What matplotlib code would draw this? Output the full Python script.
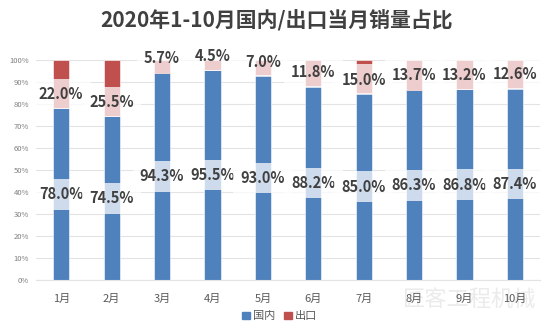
import matplotlib
matplotlib.use("Agg")
import matplotlib.pyplot as plt
from matplotlib.patches import Patch

plt.rcParams['font.family'] = ['Noto Sans CJK SC', 'DejaVu Sans']

months = ['1月', '2月', '3月', '4月', '5月', '6月', '7月', '8月', '9月', '10月']
domestic = [78.0, 74.5, 94.3, 95.5, 93.0, 88.2, 85.0, 86.3, 86.8, 87.4]
export = [22.0, 25.5, 5.7, 4.5, 7.0, 11.8, 15.0, 13.7, 13.2, 12.6]
export_label_y = [84.5, 81.0, 100.8, 102.0, 99.2, 94.4, 91.0, 93.2, 93.2, 93.5]

BLUE = '#4F81BD'
RED = '#C0504D'
TXT = '#404040'

fig = plt.figure(figsize=(5.54, 3.33), dpi=100)

# faint watermark, drawn beneath the chart
fig.text(0.847, 0.102, '匠客工程机械', ha='center', va='center', fontsize=16,
         color='#EBEBEB', zorder=-5)

ax = fig.add_axes([0.065, 0.158, 0.91, 0.662])
ax.patch.set_alpha(0)

x = list(range(len(months)))
w = 0.32
ax.bar(x, domestic, width=w, color=BLUE, edgecolor='white', linewidth=0.4, zorder=2)
ax.bar(x, export, width=w, bottom=domestic, color=RED, edgecolor='white', linewidth=0.4, zorder=2)

box = dict(boxstyle='square,pad=0.5', facecolor='white', edgecolor='none', alpha=0.72)
for i in x:
    ax.text(i, domestic[i] / 2, f'{domestic[i]:.1f}%', ha='center', va='center',
            fontsize=10.5, fontweight='bold', color=TXT, bbox=box, zorder=3)
    ax.text(i, export_label_y[i], f'{export[i]:.1f}%', ha='center', va='center',
            fontsize=10.5, fontweight='bold', color=TXT, bbox=box, zorder=3)

ax.set_xlim(-0.5, len(months) - 0.5)
ax.set_ylim(0, 100)
ax.set_yticks(range(0, 101, 10))
ax.set_yticklabels([f'{v}%' for v in range(0, 101, 10)])
ax.set_xticks(x)
ax.set_xticklabels(months)
ax.tick_params(axis='y', length=0, pad=5, labelsize=5.5, labelcolor='#7F7F7F')
ax.tick_params(axis='x', length=0, pad=10, labelsize=8, labelcolor='#595959')
ax.grid(axis='y', color='#E3E3E3', linewidth=0.8, zorder=0)
ax.set_axisbelow(True)
for s in ['top', 'right', 'left']:
    ax.spines[s].set_visible(False)
ax.spines['bottom'].set_color('#E3E3E3')
ax.spines['bottom'].set_linewidth(0.8)

fig.text(0.5, 0.938, '2020年1-10月国内/出口当月销量占比', ha='center', va='center',
         fontsize=15, fontweight='bold', color=TXT)

handles = [Patch(color=BLUE, label='国内'), Patch(color=RED, label='出口')]
fig.legend(handles=handles, loc='center', bbox_to_anchor=(0.505, 0.05), ncol=2,
           frameon=False, fontsize=8, handlelength=0.7, handleheight=0.7,
           handletextpad=0.3, columnspacing=0.8, labelcolor='#595959')

fig.savefig('out.png', dpi=100, facecolor='white')
